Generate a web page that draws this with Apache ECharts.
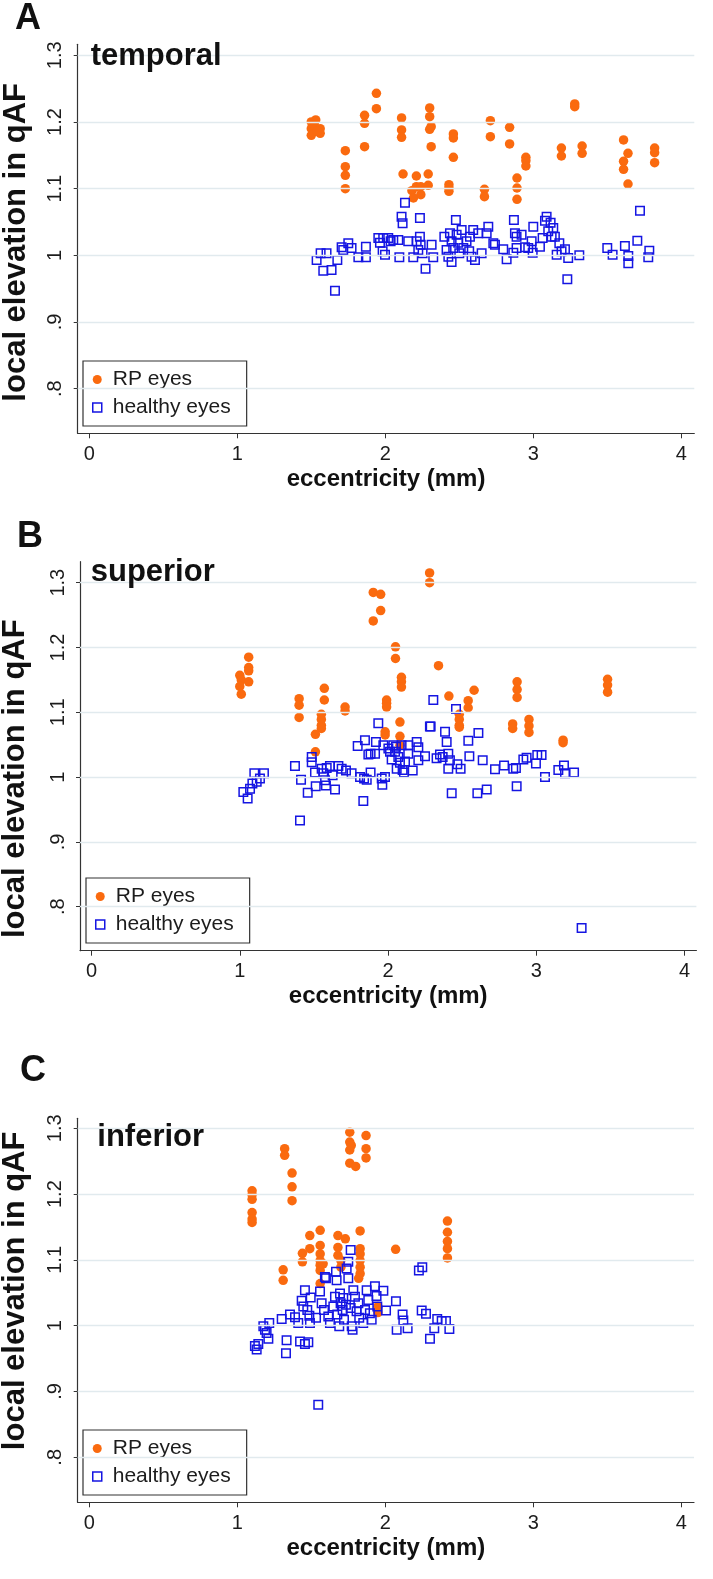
<!DOCTYPE html>
<html>
<head>
<meta charset="utf-8">
<script src="https://cdn.jsdelivr.net/npm/echarts@6/dist/echarts.min.js"></script>
<style>html,body{margin:0;padding:0;background:#fff}#c{width:713px;height:1579px}</style>
</head>
<body>
<div id="c"></div>
<script>
// ---------- data (eccentricity mm, local elevation in qAF) ----------
const panelLetters = ['A', 'B', 'C'];
const regionNames = ['temporal', 'superior', 'inferior'];
const seriesNames = ['RP eyes', 'healthy eyes'];
const xTickValues = [0, 1, 2, 3, 4];
const yTickValues = [0.8, 0.9, 1, 1.1, 1.2, 1.3];
const yTickLabels = ['.8', '.9', '1', '1.1', '1.2', '1.3'];
const xAxisTitle = 'eccentricity (mm)';
const yAxisTitle = 'local elevation in qAF';

const temporalRP = [
  [1.50,1.200],[1.53,1.203],[1.50,1.190],[1.56,1.190],[1.50,1.180],[1.56,1.183],[1.52,1.195],[1.54,1.186],
  [1.73,1.157],[1.73,1.133],[1.73,1.120],[1.73,1.100],
  [1.86,1.210],[1.86,1.198],[1.86,1.163],
  [1.94,1.243],[1.94,1.220],
  [2.11,1.206],[2.11,1.188],[2.11,1.177],[2.12,1.122],
  [2.21,1.119],[2.18,1.097],[2.21,1.103],[2.24,1.103],[2.24,1.091],[2.19,1.086],
  [2.29,1.122],[2.29,1.105],
  [2.30,1.221],[2.30,1.208],[2.31,1.193],[2.30,1.189],[2.31,1.163],
  [2.46,1.182],[2.46,1.176],[2.46,1.147],
  [2.43,1.106],[2.43,1.101],[2.43,1.096],
  [2.67,1.099],[2.67,1.088],
  [2.71,1.202],[2.71,1.178],
  [2.84,1.192],[2.84,1.167],
  [2.89,1.116],[2.89,1.101],[2.89,1.084],
  [2.95,1.147],[2.95,1.142],[2.95,1.134],
  [3.19,1.161],[3.19,1.149],
  [3.28,1.227],[3.28,1.223],
  [3.33,1.164],[3.33,1.153],
  [3.61,1.173],[3.61,1.141],[3.61,1.129],
  [3.64,1.153],[3.64,1.107],
  [3.82,1.161],[3.82,1.154],[3.82,1.139]
];
const temporalHealthy = [
  [1.536,0.993],[1.563,1.003],[1.603,1.003],[1.581,0.977],[1.637,0.978],[1.676,0.993],[1.660,0.947],
  [1.705,1.012],[1.716,1.008],[1.750,1.018],[1.772,1.011],[1.818,0.997],[1.869,1.013],[1.869,0.997],
  [1.953,1.026],[1.986,1.026],[2.020,1.026],[2.054,1.023],[2.088,1.023],[1.964,1.019],[1.982,1.006],
  [1.998,1.001],[2.036,1.021],[2.095,0.997],[2.110,1.058],[2.117,1.048],[2.133,1.079],[2.155,1.021],
  [2.189,0.997],[2.212,1.021],[2.223,1.008],[2.234,1.028],[2.234,1.056],[2.239,1.016],[2.252,1.003],
  [2.272,0.980],[2.313,1.016],[2.324,0.997],[2.399,1.028],[2.414,1.008],[2.426,0.998],[2.437,1.033],
  [2.448,0.990],[2.448,1.021],[2.459,1.011],[2.477,1.053],[2.482,1.031],[2.493,1.019],[2.500,1.003],
  [2.516,1.038],[2.527,1.011],[2.549,1.021],[2.567,1.006],[2.572,1.028],[2.583,0.998],[2.594,1.038],
  [2.606,0.993],[2.628,1.033],[2.651,1.003],[2.685,1.033],[2.696,1.043],[2.730,1.018],[2.741,1.016],
  [2.797,1.009],[2.820,0.994],[2.865,1.004],[2.869,1.053],[2.876,1.033],[2.887,1.028],[2.887,1.011],
  [2.921,1.031],[2.944,1.012],[2.966,1.011],[2.989,1.021],[2.996,1.004],[3.000,1.043],[3.045,1.013],
  [3.063,1.026],[3.079,1.052],[3.090,1.058],[3.101,1.036],[3.117,1.049],[3.124,1.028],[3.135,1.041],
  [3.146,1.028],[3.158,1.001],[3.176,1.018],[3.191,1.006],[3.214,1.009],[3.230,0.964],[3.236,0.996],
  [3.311,1.000],[3.500,1.011],[3.536,1.001],[3.619,1.014],[3.642,0.999],[3.642,0.988],[3.703,1.022],
  [3.721,1.067],[3.784,1.007],[3.777,0.997]
];

const superiorRP = [
  [1.00,1.157],[1.01,1.150],[1.00,1.140],[1.01,1.128],
  [1.06,1.185],[1.06,1.169],[1.06,1.164],[1.06,1.147],
  [1.40,1.121],[1.40,1.111],[1.40,1.092],
  [1.57,1.137],[1.57,1.119],
  [1.55,1.097],[1.55,1.089],[1.55,1.080],[1.55,1.075],
  [1.51,1.066],[1.51,1.039],
  [1.71,1.108],[1.71,1.102],
  [1.90,1.285],[1.90,1.241],
  [1.95,1.282],[1.95,1.257],
  [1.99,1.119],[1.99,1.114],[1.99,1.108],
  [1.98,1.070],[1.98,1.065],
  [2.05,1.201],[2.05,1.183],
  [2.09,1.154],[2.09,1.147],[2.09,1.139],
  [2.08,1.085],[2.08,1.063],[2.08,1.049],
  [2.28,1.315],[2.28,1.300],
  [2.34,1.172],
  [2.41,1.125],
  [2.48,1.097],[2.48,1.089],[2.48,1.080],[2.48,1.077],
  [2.54,1.118],[2.54,1.107],
  [2.58,1.134],
  [2.84,1.082],[2.84,1.075],
  [2.87,1.147],[2.87,1.135],[2.87,1.123],
  [2.95,1.089],[2.95,1.079],[2.95,1.069],
  [3.18,1.057],[3.18,1.053],
  [3.48,1.151],[3.48,1.142],[3.48,1.131]
];
const superiorHealthy = [
  [1.024,0.977],[1.053,0.967],[1.069,0.982],[1.085,0.990],[1.098,1.006],[1.114,0.993],[1.136,0.998],
  [1.163,1.006],[1.372,1.017],[1.413,0.996],[1.406,0.933],[1.458,0.976],[1.485,1.031],[1.485,1.023],
  [1.507,1.007],[1.512,0.986],[1.552,1.013],[1.563,1.006],[1.575,0.995],[1.581,0.987],[1.586,1.014],
  [1.608,1.017],[1.626,1.003],[1.642,0.981],[1.665,1.017],[1.687,1.013],[1.716,1.010],[1.754,1.006],
  [1.811,1.000],[1.838,0.998],[1.856,0.996],[1.833,0.963],[1.795,1.048],[1.844,1.057],[1.867,1.035],
  [1.882,1.036],[1.882,1.007],[1.912,1.036],[1.918,1.054],[1.934,1.083],[1.957,0.998],[1.961,0.988],
  [1.968,1.049],[1.979,1.000],[2.002,1.044],[2.013,1.039],[2.024,1.027],[2.035,1.049],[2.047,1.039],
  [2.053,1.047],[2.058,1.013],[2.069,1.031],[2.080,1.022],[2.091,1.049],[2.098,1.011],[2.107,1.007],
  [2.114,1.024],[2.136,1.036],[2.136,1.049],[2.166,1.010],[2.193,1.054],[2.204,1.026],[2.204,1.046],
  [2.249,1.032],[2.282,1.078],[2.287,1.078],[2.305,1.119],[2.327,1.029],[2.350,1.035],[2.368,1.031],
  [2.384,1.070],[2.395,1.054],[2.406,1.036],[2.417,1.026],[2.406,1.013],[2.429,0.975],[2.458,1.105],
  [2.467,1.020],[2.489,1.013],[2.541,1.056],[2.548,1.032],[2.609,1.068],[2.602,0.975],[2.638,1.026],
  [2.665,0.981],[2.721,1.012],[2.782,1.018],[2.844,1.013],[2.862,1.014],[2.867,0.986],[2.912,1.027],
  [2.934,1.030],[2.997,1.021],[3.006,1.034],[3.035,1.034],[3.058,1.000],[3.148,1.011],[3.186,1.018],
  [3.193,1.006],[3.254,1.007],[3.305,0.767]
];

const inferiorRP = [
  [1.10,1.205],[1.10,1.199],[1.10,1.192],[1.10,1.172],[1.10,1.162],[1.10,1.157],
  [1.32,1.269],[1.32,1.259],
  [1.37,1.232],[1.37,1.211],[1.37,1.190],
  [1.31,1.085],[1.31,1.069],
  [1.44,1.110],[1.44,1.097],
  [1.49,1.137],[1.49,1.117],
  [1.56,1.145],
  [1.56,1.122],[1.56,1.109],[1.56,1.099],[1.56,1.092],[1.56,1.084],[1.56,1.064],[1.58,1.094],
  [1.68,1.137],[1.68,1.119],[1.68,1.107],
  [1.73,1.132],
  [1.70,1.099],[1.70,1.089],
  [1.76,1.294],[1.76,1.279],[1.76,1.267],[1.76,1.247],[1.77,1.274],[1.80,1.242],
  [1.87,1.289],[1.87,1.269],[1.87,1.255],
  [1.83,1.144],[1.83,1.117],[1.83,1.109],[1.83,1.099],[1.83,1.089],[1.83,1.079],[1.82,1.072],
  [1.95,1.029],[1.95,1.020],
  [2.07,1.116],
  [2.42,1.159],[2.42,1.142],[2.42,1.128],[2.42,1.117],[2.42,1.103]
];
const inferiorHealthy = [
  [1.119,0.969],[1.131,0.964],[1.142,0.972],[1.187,0.994],[1.198,0.989],[1.210,0.980],[1.216,1.004],
  [1.176,0.999],[1.300,1.010],[1.333,0.978],[1.329,0.958],[1.356,1.017],[1.390,1.013],[1.412,1.004],
  [1.424,0.976],[1.457,0.972],[1.480,0.975],[1.435,1.038],[1.457,1.054],[1.446,1.029],[1.473,1.024],
  [1.487,1.015],[1.496,1.043],[1.491,1.004],[1.532,1.012],[1.547,0.880],[1.559,1.052],[1.570,1.034],
  [1.586,1.024],[1.592,1.074],[1.599,1.072],[1.615,1.014],[1.626,1.004],[1.649,1.029],[1.660,1.044],
  [1.667,1.082],[1.671,1.069],[1.676,1.017],[1.689,0.999],[1.694,1.049],[1.698,1.034],[1.712,1.024],
  [1.716,1.042],[1.721,1.009],[1.734,1.032],[1.739,1.087],[1.750,1.072],[1.750,1.097],[1.766,1.115],
  [1.766,1.027],[1.773,0.999],[1.779,0.994],[1.784,1.054],[1.795,1.044],[1.806,1.022],[1.818,1.034],
  [1.824,1.012],[1.851,1.004],[1.863,1.024],[1.874,1.054],[1.885,1.039],[1.896,1.019],[1.908,1.009],
  [1.930,1.060],[1.941,1.045],[1.946,1.029],[1.987,1.053],[2.005,1.023],[2.072,1.037],[2.077,0.994],
  [2.117,1.017],[2.122,1.008],[2.151,0.996],[2.227,1.084],[2.250,1.089],[2.246,1.023],[2.275,1.018],
  [2.302,0.980],[2.331,0.996],[2.351,1.010],[2.381,1.007],[2.410,1.007],[2.433,0.995]
];

const rpData = [temporalRP, superiorRP, inferiorRP];
const healthyData = [temporalHealthy, superiorHealthy, inferiorHealthy];

// ---------- layout ----------
const FONT = "'Liberation Sans', Arial, Helvetica, sans-serif";
const ORANGE = '#fa6a0f';
const BLUE = '#1515e2';
const GRIDC = '#e1eaee';
const TXT = '#1c1c1c';

const layout = [
  { grid: {left: 77.7, top: 44.3, width: 616.6, height: 389}, xr: [-0.0784, 4.088], yr: [0.7331, 1.3165],
    letter: [15, 19.5], region: [90.7, 56], ytitle: [16.3, 242.3], legend: [83, 361] },
  { grid: {left: 80, top: 561.7, width: 616.4, height: 389}, xr: [-0.0775, 4.079], yr: [0.7321, 1.3324],
    letter: [17, 537.5], region: [90.7, 572], ytitle: [15.4, 778.7], legend: [86, 878] },
  { grid: {left: 77.7, top: 1118.3, width: 616.3, height: 384}, xr: [-0.0784, 4.086], yr: [0.7316, 1.3152],
    letter: [20, 1071.5], region: [97.3, 1137.3], ytitle: [15.8, 1290.8], legend: [83, 1430] }
];

const grids = [], xAxes = [], yAxes = [], series = [], legends = [], graphics = [];
layout.forEach((L, i) => {
  grids.push(Object.assign({containLabel: false}, L.grid));
  xAxes.push({
    type: 'value', gridIndex: i, min: L.xr[0], max: L.xr[1],
    axisLine: {show: true, onZero: false, lineStyle: {color: '#333', width: 1.2}},
    axisTick: {show: true, length: 5, lineStyle: {color: '#333'}, customValues: xTickValues},
    axisLabel: {show: true, customValues: xTickValues, fontSize: 20, color: TXT, fontFamily: FONT, margin: 11,
                formatter: v => String(v)},
    splitLine: {show: false},
    name: xAxisTitle, nameLocation: 'middle', nameGap: 34,
    nameTextStyle: {fontSize: 24, fontWeight: 'bold', color: '#111', fontFamily: FONT}
  });
  yAxes.push({
    type: 'value', gridIndex: i, min: L.yr[0], max: L.yr[1],
    axisLine: {show: true, onZero: false, lineStyle: {color: '#333', width: 1.2}},
    axisTick: {show: true, length: 4, lineStyle: {color: '#333'}, customValues: yTickValues},
    axisLabel: {show: true, customValues: yTickValues, rotate: 90, fontSize: 20, color: TXT, fontFamily: FONT, margin: 12,
                formatter: v => { const k = yTickValues.findIndex(t => Math.abs(t - v) < 1e-6); return k >= 0 ? yTickLabels[k] : ''; }},
    splitLine: {show: false}
  });
  // horizontal grid lines at the tick values
  series.push({
    type: 'scatter', name: 'gridlines' + i, xAxisIndex: i, yAxisIndex: i, data: [], silent: true, z: 1,
    markLine: {silent: true, symbol: ['none', 'none'], label: {show: false}, animation: false,
               lineStyle: {color: GRIDC, width: 1.3, type: 'solid'},
               data: yTickValues.map(v => ({yAxis: v}))}
  });
  series.push({
    type: 'scatter', name: seriesNames[0], xAxisIndex: i, yAxisIndex: i, z: 3,
    symbol: 'circle', symbolSize: 9.5, itemStyle: {color: ORANGE, opacity: 1},
    data: rpData[i]
  });
  series.push({
    type: 'scatter', name: seriesNames[1], xAxisIndex: i, yAxisIndex: i, z: 4,
    symbol: 'rect', symbolSize: 8.5,
    itemStyle: {color: 'rgba(255,255,255,0)', borderColor: BLUE, borderWidth: 1.5, opacity: 1},
    data: healthyData[i]
  });
  legends.push({
    left: L.legend[0], top: L.legend[1], orient: 'vertical',
    data: [{name: seriesNames[0], icon: 'circle'}, {name: seriesNames[1], icon: 'rect'}],
    itemWidth: 9, itemHeight: 9, itemGap: 7, padding: [8, 16, 8, 9],
    borderColor: '#333', borderWidth: 1.2, backgroundColor: '#fff', selectedMode: false,
    textStyle: {fontSize: 21, color: TXT, fontFamily: FONT, padding: [0, 0, 0, 6]},
    itemStyle: {borderWidth: 1.5}
  });
  graphics.push({type: 'text', x: L.letter[0], y: L.letter[1], z: 10,
    style: {text: panelLetters[i], font: 'bold 36px ' + FONT, fill: '#111', textVerticalAlign: 'middle', verticalAlign: 'middle'}});
  graphics.push({type: 'text', x: L.region[0], y: L.region[1], z: 10,
    style: {text: regionNames[i], font: 'bold 31px ' + FONT, fill: '#111', textVerticalAlign: 'middle', verticalAlign: 'middle'}});
  graphics.push({type: 'text', x: L.ytitle[0], y: L.ytitle[1], rotation: Math.PI / 2, z: 10,
    style: {text: yAxisTitle, font: 'bold 31px ' + FONT, fill: '#111', textAlign: 'center', align: 'center',
            textVerticalAlign: 'middle', verticalAlign: 'middle'}});
});

const chart = echarts.init(document.getElementById('c'), null, {renderer: 'canvas', width: 713, height: 1579});
chart.setOption({
  animation: false,
  backgroundColor: '#fff',
  textStyle: {fontFamily: FONT},
  grid: grids, xAxis: xAxes, yAxis: yAxes, series: series, legend: legends, graphic: graphics
});
</script>
</body>
</html>
